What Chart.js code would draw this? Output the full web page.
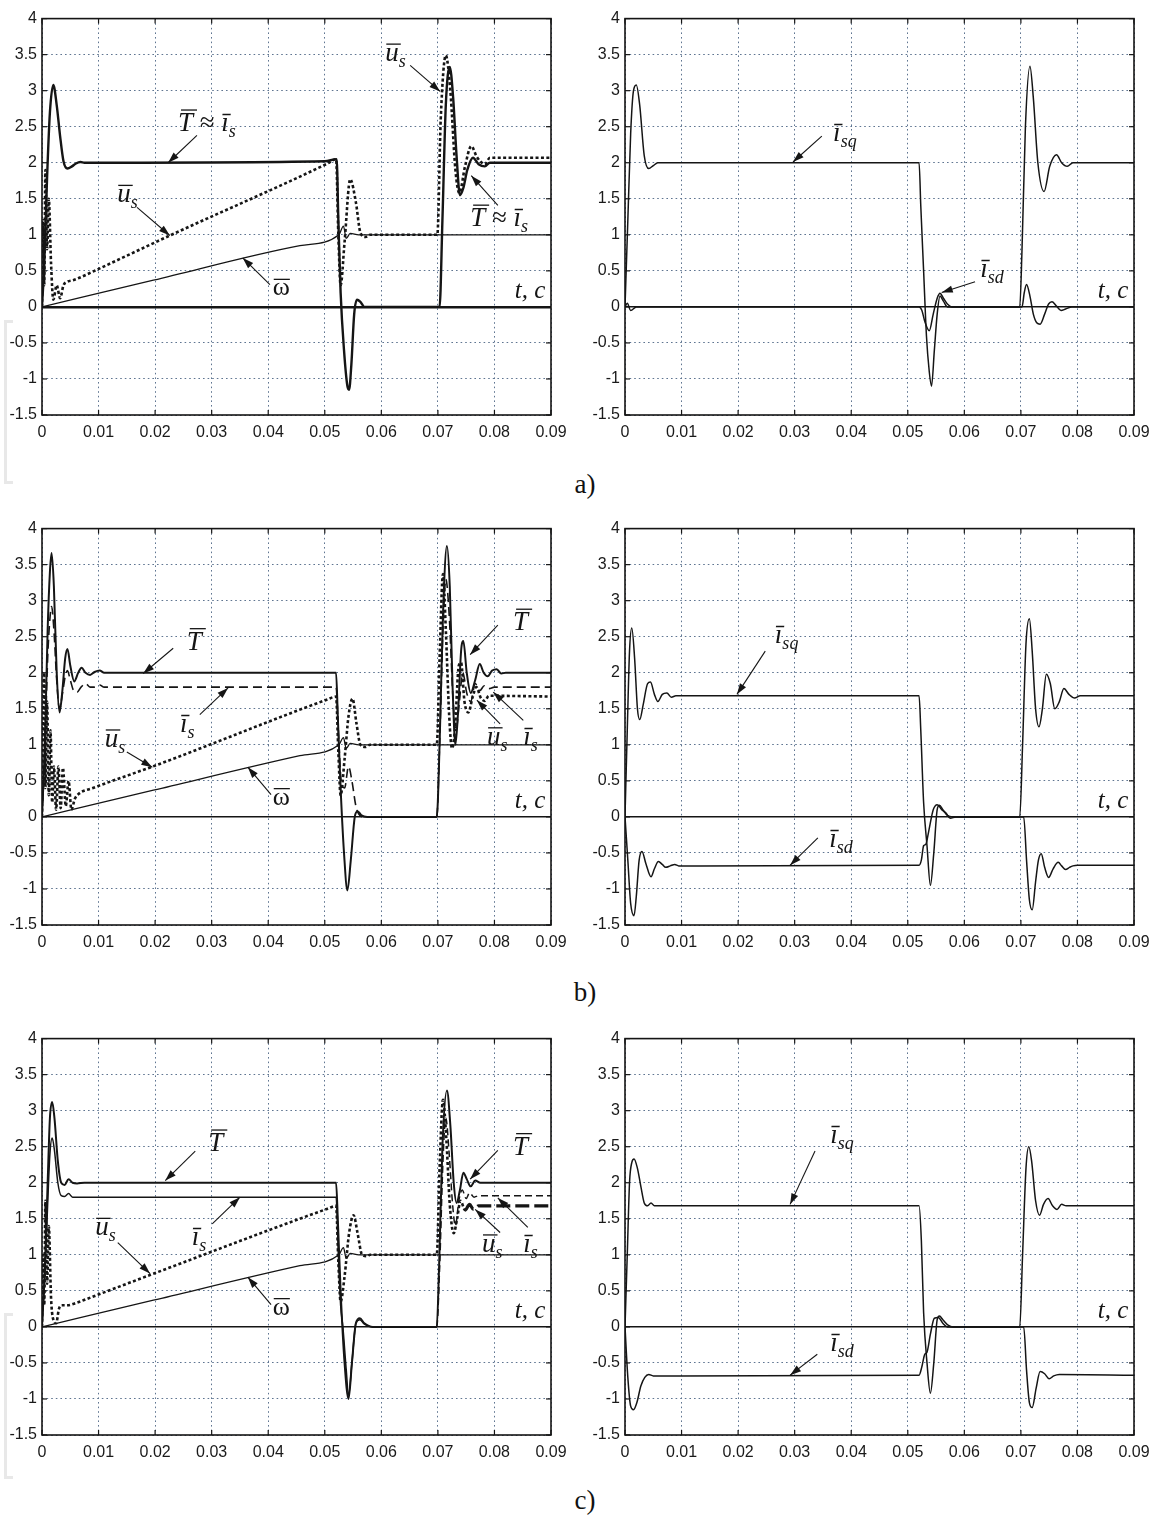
<!DOCTYPE html>
<html><head><meta charset="utf-8">
<script src="https://cdn.jsdelivr.net/npm/chart.js@4.4.1/dist/chart.umd.min.js"></script>
<style>
html,body{margin:0;padding:0;background:#fff;}
body{width:1161px;height:1517px;position:relative;overflow:hidden;}
canvas{position:absolute;}
.sub{position:absolute;font:27px "Liberation Serif",serif;color:#111;transform:translate(-50%,-50%);}
.brk{position:absolute;border:3px solid #e8e8e8;border-right:none;width:6px;}
</style>
</head><body>
<div class="brk" style="left:4px;top:320px;height:158px"></div>
<div class="brk" style="left:4px;top:1313px;height:160px"></div>
<canvas id="aL"></canvas><canvas id="aR"></canvas>
<canvas id="bL"></canvas><canvas id="bR"></canvas>
<canvas id="cL"></canvas><canvas id="cR"></canvas>
<div class="sub" style="left:585px;top:484px">a)</div>
<div class="sub" style="left:585px;top:992px">b)</div>
<div class="sub" style="left:585px;top:1500px">c)</div>
<script>
// ---------- tick labels ----------
const xTicks = [0,0.01,0.02,0.03,0.04,0.05,0.06,0.07,0.08,0.09];
const xTickLabels = ['0','0.01','0.02','0.03','0.04','0.05','0.06','0.07','0.08','0.09'];
const yTicks = [-1.5,-1,-0.5,0,0.5,1,1.5,2,2.5,3,3.5,4];
const yTickLabels = ['-1.5','-1','-0.5','0','0.5','1','1.5','2','2.5','3','3.5','4'];

// ---------- row a) left ----------
const aL_T = [[0,0],[0.0004,0.6],[0.0009,1.8],[0.0014,2.7],[0.002,3.08],[0.0026,2.8],[0.0032,2.37],[0.0038,2.02],[0.0045,1.92],[0.0053,1.95],[0.006,1.99],[0.0068,2.01],[0.0075,2.0],[0.05,2.02],[0.0521,2.05],[0.0524,1.2],[0.0528,0.2],[0.0534,-0.6],[0.054,-1.1],[0.0543,-1.15],[0.0547,-0.8],[0.0552,-0.1],[0.0557,0.1],[0.0563,0.07],[0.057,0],[0.0703,0],[0.0708,1.2],[0.0714,2.8],[0.0721,3.33],[0.0727,2.9],[0.0733,2.1],[0.0739,1.55],[0.0745,1.65],[0.0752,1.9],[0.0762,2.07],[0.0772,1.98],[0.0783,1.95],[0.0792,2.0],[0.09,2.0]];
const aL_u = [[0,0],[0.0002,1.2],[0.0004,0.3],[0.0006,1.9],[0.0009,0.8],[0.0012,1.5],[0.0016,0.6],[0.002,0.1],[0.0026,0.3],[0.0032,0.12],[0.0038,0.3],[0.0045,0.35],[0.0055,0.37],[0.0065,0.4],[0.009,0.49],[0.0226,0.99],[0.0505,1.99],[0.052,2.05],[0.0524,1.0],[0.0528,0.3],[0.0535,0.9],[0.0545,1.77],[0.0555,1.45],[0.0563,1.03],[0.0572,0.97],[0.058,1.0],[0.0699,1.0],[0.0705,2.6],[0.0714,3.49],[0.0722,3.0],[0.0731,1.9],[0.0738,1.58],[0.0748,1.95],[0.0759,2.23],[0.0769,2.08],[0.0783,1.98],[0.0792,2.07],[0.09,2.07]];
const aL_w = [[0,0],[0.0197,0.37],[0.0456,0.85],[0.0525,1.0],[0.0533,1.12],[0.0538,0.95],[0.0545,1.02],[0.056,1.0],[0.09,1.0]];
// ---------- row a) right ----------
const aR_isq = [[0,0],[0.0005,1.2],[0.001,2.4],[0.0015,3.0],[0.002,3.08],[0.0026,2.8],[0.0034,2.1],[0.0042,1.92],[0.005,1.96],[0.0058,2.0],[0.052,2.0],[0.0523,1.4],[0.0528,0.5],[0.0533,-0.4],[0.0538,-0.9],[0.0542,-1.1],[0.0547,-0.6],[0.0552,-0.1],[0.0557,0.15],[0.0563,0.08],[0.057,0],[0.0698,0],[0.0702,0.8],[0.0708,2.5],[0.0716,3.34],[0.0722,2.9],[0.073,2.0],[0.0741,1.6],[0.0751,1.95],[0.0763,2.11],[0.0772,2.0],[0.0782,1.95],[0.0792,2.0],[0.09,2.0]];
const aR_isd = [[0,0],[0.0004,0.05],[0.001,-0.05],[0.002,0],[0.052,0],[0.0525,-0.05],[0.053,-0.2],[0.0538,-0.33],[0.0545,-0.1],[0.0552,0.12],[0.0557,0.19],[0.0563,0.12],[0.057,0.04],[0.0578,0],[0.0702,0],[0.0706,0.2],[0.071,0.31],[0.0716,0.15],[0.0722,-0.1],[0.0728,-0.22],[0.0734,-0.24],[0.0742,-0.1],[0.0749,0.04],[0.0755,0.07],[0.0762,0.02],[0.0771,-0.05],[0.0779,-0.03],[0.079,0],[0.09,0]];
// ---------- row b) left ----------
const bL_T = [[0,0],[0.0005,1.0],[0.001,2.6],[0.0014,3.4],[0.0017,3.66],[0.0021,3.2],[0.0026,2.0],[0.0031,1.45],[0.0036,1.75],[0.0041,2.2],[0.0045,2.33],[0.005,2.1],[0.0057,1.88],[0.0064,2.0],[0.007,2.07],[0.0077,2.0],[0.0085,1.97],[0.0093,2.01],[0.0102,2.03],[0.011,2.0],[0.052,2.0],[0.0523,1.4],[0.0528,0.4],[0.0534,-0.5],[0.054,-1.02],[0.0546,-0.6],[0.0553,0],[0.0558,0.08],[0.0565,0.02],[0.0575,0],[0.0698,0],[0.0703,1.0],[0.0709,2.8],[0.0716,3.76],[0.0721,3.2],[0.0726,1.8],[0.0731,1.0],[0.0736,1.5],[0.0741,2.3],[0.0745,2.44],[0.0751,2.0],[0.0758,1.72],[0.0766,1.9],[0.0774,2.12],[0.0781,2.0],[0.0788,1.95],[0.0796,2.03],[0.0804,2.05],[0.0812,1.99],[0.082,2.0],[0.09,2.0]];
const bL_is = [[0,0],[0.0005,0.9],[0.001,2.2],[0.0014,2.75],[0.0017,2.92],[0.0021,2.6],[0.0026,1.9],[0.0031,1.5],[0.0036,1.7],[0.0041,1.95],[0.0045,2.03],[0.005,1.9],[0.0056,1.75],[0.0062,1.73],[0.0069,1.8],[0.0077,1.85],[0.0085,1.8],[0.0093,1.8],[0.0102,1.83],[0.011,1.8],[0.052,1.8],[0.0524,1.2],[0.0529,0.5],[0.0535,0.4],[0.0542,0.7],[0.0548,0.5],[0.0555,0.15],[0.0562,0.02],[0.057,0],[0.0698,0],[0.0703,1.0],[0.0709,2.6],[0.0714,3.3],[0.072,2.8],[0.0727,1.6],[0.0732,1.2],[0.0738,1.6],[0.0744,2.0],[0.0751,1.72],[0.0758,1.6],[0.0766,1.85],[0.0774,1.75],[0.0782,1.82],[0.079,1.78],[0.08,1.8],[0.09,1.8]];
const bL_u = [[0,0],[0.0002,1.3],[0.0004,2.0],[0.0006,0.4],[0.0009,1.6],[0.0012,0.3],[0.0015,1.2],[0.0018,0.2],[0.0021,0.7],[0.0025,0.1],[0.0029,0.7],[0.0033,0.12],[0.0037,0.68],[0.0042,0.15],[0.0047,0.5],[0.0052,0.1],[0.0058,0.25],[0.0065,0.32],[0.009,0.4],[0.0203,0.72],[0.0505,1.63],[0.052,1.67],[0.0524,0.9],[0.0528,0.3],[0.0535,0.8],[0.0542,1.4],[0.0549,1.64],[0.0556,1.3],[0.0563,1.0],[0.0572,0.97],[0.058,1.0],[0.0698,1.0],[0.0703,2.2],[0.0709,3.37],[0.0714,2.6],[0.072,1.4],[0.0725,0.95],[0.073,1.2],[0.0737,2.1],[0.0741,2.14],[0.0747,1.6],[0.0754,1.45],[0.0761,1.65],[0.0768,1.8],[0.0776,1.65],[0.0783,1.61],[0.079,1.68],[0.09,1.67]];
const bL_w = [[0,0],[0.0197,0.37],[0.0456,0.85],[0.0525,1.0],[0.0533,1.1],[0.0538,0.95],[0.0545,1.02],[0.056,1.0],[0.09,1.0]];
// ---------- row b) right ----------
const bR_isq = [[0,0],[0.0004,1.2],[0.0008,2.3],[0.0012,2.62],[0.0017,2.2],[0.0022,1.5],[0.0026,1.35],[0.0032,1.55],[0.004,1.85],[0.0045,1.87],[0.0052,1.7],[0.0058,1.6],[0.0066,1.7],[0.0074,1.72],[0.0082,1.66],[0.009,1.68],[0.052,1.68],[0.0523,1.2],[0.0528,0.2],[0.0534,-0.4],[0.054,-0.95],[0.0546,-0.5],[0.0552,0.1],[0.0556,0.16],[0.0562,0.1],[0.057,0.02],[0.058,0],[0.0698,0],[0.0703,1.0],[0.0709,2.4],[0.0715,2.75],[0.072,2.3],[0.0726,1.5],[0.0732,1.25],[0.0738,1.5],[0.0745,1.98],[0.0752,1.85],[0.076,1.5],[0.0768,1.6],[0.0776,1.78],[0.0785,1.7],[0.0795,1.65],[0.0805,1.68],[0.09,1.68]];
const bR_isd = [[0,0],[0.0005,-0.6],[0.001,-1.2],[0.0016,-1.37],[0.002,-1.1],[0.0025,-0.6],[0.003,-0.48],[0.0037,-0.65],[0.0046,-0.83],[0.0052,-0.72],[0.0059,-0.62],[0.0066,-0.66],[0.0072,-0.7],[0.008,-0.68],[0.0088,-0.66],[0.0095,-0.68],[0.052,-0.67],[0.0524,-0.6],[0.0528,-0.4],[0.0532,-0.38],[0.0537,-0.2],[0.0545,0.1],[0.0552,0.17],[0.056,0.1],[0.0568,0.05],[0.0575,-0.02],[0.0585,0],[0.0705,0],[0.071,-0.6],[0.0715,-1.15],[0.072,-1.29],[0.0726,-0.9],[0.0731,-0.6],[0.0736,-0.51],[0.0742,-0.7],[0.0749,-0.84],[0.0757,-0.72],[0.0766,-0.63],[0.0772,-0.68],[0.0779,-0.73],[0.0786,-0.7],[0.0792,-0.68],[0.08,-0.67],[0.09,-0.67]];
// ---------- row c) left ----------
const cL_T = [[0,0],[0.0005,0.8],[0.001,2.0],[0.0014,2.9],[0.0018,3.12],[0.0022,2.9],[0.0028,2.3],[0.0034,2.0],[0.004,1.97],[0.0047,2.05],[0.0054,2.0],[0.0062,1.99],[0.0075,2.0],[0.052,2.0],[0.0523,1.5],[0.0528,0.5],[0.0535,-0.5],[0.0542,-1.0],[0.0548,-0.5],[0.0555,0.05],[0.0562,0.12],[0.057,0.05],[0.0585,0],[0.0698,0],[0.0702,0.8],[0.0708,2.5],[0.0716,3.28],[0.0722,2.8],[0.0728,2.0],[0.0733,1.72],[0.0739,1.9],[0.0745,2.14],[0.0751,2.05],[0.0758,1.95],[0.0766,2.03],[0.0775,2.0],[0.09,2.0]];
const cL_is = [[0,0],[0.0005,0.7],[0.001,1.7],[0.0014,2.4],[0.0018,2.62],[0.0022,2.45],[0.0028,2.0],[0.0034,1.82],[0.004,1.81],[0.0047,1.85],[0.0054,1.8],[0.0062,1.8],[0.052,1.8],[0.0524,1.0],[0.0528,0.3],[0.0532,0],[0.0538,-0.6],[0.0542,-0.95],[0.0548,-0.5],[0.0555,0.05],[0.0562,0.1],[0.057,0.04],[0.0585,0],[0.0698,0],[0.0703,0.8],[0.0709,2.3],[0.0714,2.9],[0.072,2.4],[0.0726,1.7],[0.0731,1.4],[0.0737,1.75],[0.0743,1.9],[0.075,1.78],[0.0756,1.86],[0.0764,1.8],[0.0772,1.82],[0.09,1.82]];
const cL_u = [[0,0],[0.0002,1.0],[0.0004,0.3],[0.0006,1.75],[0.0009,0.6],[0.0012,1.4],[0.0016,0.4],[0.002,0.1],[0.0025,0.05],[0.003,0.25],[0.0035,0.3],[0.0045,0.3],[0.006,0.33],[0.008,0.39],[0.0191,0.72],[0.0505,1.64],[0.052,1.68],[0.0524,0.9],[0.0528,0.35],[0.0535,0.7],[0.0543,1.3],[0.0551,1.55],[0.0558,1.3],[0.0566,1.0],[0.0575,0.98],[0.058,1.0],[0.0698,1.0],[0.0703,2.2],[0.0709,3.15],[0.0715,2.6],[0.0721,1.7],[0.0728,1.3],[0.0734,1.5],[0.074,1.75],[0.0748,1.62],[0.0756,1.7],[0.0763,1.63],[0.0772,1.68],[0.09,1.68]];
const cL_w = [[0,0],[0.0197,0.37],[0.0456,0.85],[0.0525,1.0],[0.0533,1.1],[0.0538,0.95],[0.0545,1.02],[0.056,1.0],[0.09,1.0]];
// ---------- row c) right ----------
const cR_isq = [[0,0],[0.0004,1.0],[0.0008,2.0],[0.0012,2.28],[0.0016,2.33],[0.0022,2.2],[0.0028,1.95],[0.0034,1.72],[0.004,1.68],[0.0046,1.72],[0.0052,1.68],[0.052,1.68],[0.0524,1.2],[0.0528,0.2],[0.0534,-0.5],[0.054,-0.92],[0.0546,-0.5],[0.0552,0.1],[0.0556,0.15],[0.0562,0.1],[0.0572,0.02],[0.058,0],[0.0698,0],[0.0703,1.0],[0.0709,2.2],[0.0714,2.5],[0.0719,2.3],[0.0726,1.75],[0.0733,1.55],[0.074,1.7],[0.0748,1.78],[0.0756,1.68],[0.0764,1.63],[0.0772,1.7],[0.078,1.68],[0.09,1.68]];
const cR_isd = [[0,0],[0.0005,-0.7],[0.001,-1.1],[0.0015,-1.15],[0.0021,-1.05],[0.0028,-0.82],[0.0035,-0.7],[0.0042,-0.66],[0.005,-0.68],[0.052,-0.67],[0.0525,-0.55],[0.053,-0.38],[0.0534,-0.35],[0.054,-0.1],[0.0547,0.12],[0.0554,0.13],[0.0562,0.05],[0.057,0],[0.0705,0],[0.071,-0.6],[0.0715,-1.05],[0.072,-1.12],[0.0727,-0.85],[0.0734,-0.62],[0.0742,-0.65],[0.075,-0.72],[0.0758,-0.68],[0.0768,-0.66],[0.09,-0.67]];

// ---------- annotations (label kind, label anchor, arrow start, arrow tip) in data units ----------
const ANN = {
  aL: [
    {k:'Tis', at:[0.02405,2.44], from:[0.0274,2.38], to:[0.0223,2.0]},
    {k:'us',  at:[0.0133,1.45], from:[0.0168,1.38], to:[0.0226,0.99]},
    {k:'w',   at:[0.0408,0.16], from:[0.0403,0.31], to:[0.0355,0.68]},
    {k:'us',  at:[0.0607,3.41], from:[0.0651,3.35], to:[0.0704,2.99]},
    {k:'Tis', at:[0.0757,1.12], from:[0.0806,1.41], to:[0.0759,1.82]},
    {k:'tc',  at:[0.0836,0.12]}
  ],
  aR: [
    {k:'isq', at:[0.0368,2.30], from:[0.0348,2.37], to:[0.0297,2.01]},
    {k:'isd', at:[0.0628,0.42], from:[0.0619,0.35], to:[0.0560,0.2]},
    {k:'tc',  at:[0.0836,0.12]}
  ],
  bL: [
    {k:'T',  at:[0.0256,2.32], from:[0.0232,2.34], to:[0.0179,1.99]},
    {k:'is', at:[0.0244,1.18], from:[0.0279,1.42], to:[0.0329,1.79]},
    {k:'us', at:[0.0111,0.97], from:[0.0150,0.90], to:[0.0195,0.69]},
    {k:'w',  at:[0.0408,0.17], from:[0.0405,0.31], to:[0.0364,0.69]},
    {k:'T',  at:[0.0833,2.59], from:[0.0806,2.66], to:[0.0757,2.25]},
    {k:'us', at:[0.0787,1.0], from:[0.0810,1.29], to:[0.0769,1.62]},
    {k:'is', at:[0.0851,1.0], from:[0.0851,1.34], to:[0.0798,1.73]},
    {k:'tc', at:[0.0836,0.12]}
  ],
  bR: [
    {k:'isq', at:[0.0265,2.41], from:[0.0248,2.30], to:[0.0198,1.7]},
    {k:'isd', at:[0.0361,-0.42], from:[0.0341,-0.29], to:[0.0292,-0.67]},
    {k:'tc',  at:[0.0836,0.12]}
  ],
  cL: [
    {k:'T',  at:[0.0294,2.44], from:[0.0271,2.44], to:[0.0218,2.03]},
    {k:'is', at:[0.0265,1.14], from:[0.0301,1.43], to:[0.0350,1.80]},
    {k:'us', at:[0.0094,1.27], from:[0.0134,1.17], to:[0.0191,0.74]},
    {k:'w',  at:[0.0408,0.17], from:[0.0405,0.31], to:[0.0364,0.69]},
    {k:'T',  at:[0.0833,2.39], from:[0.0806,2.45], to:[0.0757,2.05]},
    {k:'us', at:[0.0778,1.04], from:[0.0810,1.31], to:[0.0766,1.63]},
    {k:'is', at:[0.0851,1.04], from:[0.0859,1.38], to:[0.0806,1.79]},
    {k:'tc', at:[0.0836,0.12]}
  ],
  cR: [
    {k:'isq', at:[0.0363,2.55], from:[0.0336,2.44], to:[0.0292,1.7]},
    {k:'isd', at:[0.0363,-0.33], from:[0.0340,-0.38], to:[0.0292,-0.67]},
    {k:'tc',  at:[0.0836,0.12]}
  ]
};

// ---------- drawing helpers ----------
const INK = '#151515';
const FI = 'italic 27px "Liberation Serif"';
const FSUB = 'italic 18px "Liberation Serif"';
const FUP = '27px "Liberation Serif"';
function txt(ctx, s, x, y, font){ ctx.font = font; ctx.fillText(s, x, y); return ctx.measureText(s).width; }
function bar(ctx, x1, x2, y){ ctx.beginPath(); ctx.moveTo(x1, y); ctx.lineTo(x2, y); ctx.stroke(); }
function drawLabel(ctx, k, x, y){
  ctx.textBaseline = 'alphabetic'; ctx.textAlign = 'left'; ctx.lineWidth = 1.3;
  let w;
  const T = () => { w = txt(ctx,'T',x,y,FI); bar(ctx, x+3, x+w+4, y-21); x += w; };
  const I = (sub) => { w = txt(ctx,'ī',x,y,FI); x += w; w = txt(ctx,sub,x,y+6,FSUB); x += w; };
  switch(k){
    case 'Tis': T(); x += txt(ctx,' ≈ ',x,y,FUP); I('s'); break;
    case 'T': T(); break;
    case 'is': I('s'); break;
    case 'isq': I('sq'); break;
    case 'isd': I('sd'); break;
    case 'us': w = txt(ctx,'u',x,y,FI); bar(ctx,x+1,x+w+2,y-17); x+=w; txt(ctx,'s',x,y+6,FSUB); break;
    case 'w': w = txt(ctx,'ω',x,y,'26px "Liberation Serif"'); bar(ctx,x+1,x+w,y-16); break;
    case 'tc': txt(ctx,'t, c',x,y,'italic 25px "Liberation Serif"'); break;
  }
}
function arrow(ctx, x1, y1, x2, y2){
  ctx.lineWidth = 1.1;
  ctx.beginPath(); ctx.moveTo(x1, y1); ctx.lineTo(x2, y2); ctx.stroke();
  const a = Math.atan2(y2-y1, x2-x1), L = 11, H = 3.6;
  const bx = x2 - L*Math.cos(a), by = y2 - L*Math.sin(a);
  ctx.beginPath(); ctx.moveTo(x2, y2);
  ctx.lineTo(bx + H*Math.sin(a), by - H*Math.cos(a));
  ctx.lineTo(bx - H*Math.sin(a), by + H*Math.cos(a));
  ctx.closePath(); ctx.fill();
}
const framePlugin = {
  id: 'frame',
  afterDraw(chart){
    const ctx = chart.ctx, ca = chart.chartArea, xs = chart.scales.x, ys = chart.scales.y;
    ctx.save();
    ctx.strokeStyle = INK; ctx.fillStyle = INK;
    ctx.lineWidth = 1.6;
    ctx.strokeRect(ca.left, ca.top, ca.right - ca.left, ca.bottom - ca.top);
    ctx.lineWidth = 1.2;
    function seg(a,b,c,d){ ctx.beginPath(); ctx.moveTo(a,b); ctx.lineTo(c,d); ctx.stroke(); }
    xTicks.forEach(v => { const p = xs.getPixelForValue(v); seg(p, ca.top, p, ca.top+5); seg(p, ca.bottom, p, ca.bottom-5); });
    yTicks.forEach(v => { const p = ys.getPixelForValue(v); seg(ca.left, p, ca.left+5, p); seg(ca.right, p, ca.right-5, p); });
    (ANN[chart.canvas.id] || []).forEach(a => {
      if (a.from) arrow(ctx, xs.getPixelForValue(a.from[0]), ys.getPixelForValue(a.from[1]), xs.getPixelForValue(a.to[0]), ys.getPixelForValue(a.to[1]));
      drawLabel(ctx, a.k, xs.getPixelForValue(a.at[0]), ys.getPixelForValue(a.at[1]));
    });
    ctx.restore();
  }
};

// ---------- dataset styles ----------
const SOLID = {borderWidth: 2.0};
const THIN = {borderWidth: 1.3};
const DOTTED = {borderWidth: 2.6, borderDash: [3, 2.4]};
const DASHED = {borderWidth: 1.6, borderDash: [9, 5]};
function ds(pairs, style, extra){
  return Object.assign({
    data: pairs.map(p => ({x: p[0], y: p[1]})),
    borderColor: INK, pointRadius: 0, fill: false,
    cubicInterpolationMode: 'monotone', spanGaps: true
  }, style, extra || {});
}
const GRID = '#5f7591';
function build(id, side, top, datasets, zeroW){
  const cv = document.getElementById(id);
  const W = side === 'L' ? 580 : 581, H = 451;
  cv.width = W; cv.height = H;
  cv.style.left = (side === 'L' ? 0 : 580) + 'px'; cv.style.top = top + 'px';
  cv.style.width = W + 'px'; cv.style.height = H + 'px';
  const isZero = c => c.tick && Math.abs(c.tick.value) < 1e-9;
  new Chart(cv, {
    type: 'line',
    data: {datasets},
    options: {
      responsive: false, animation: false, devicePixelRatio: 1,
      layout: {padding: {left: 0, right: side === 'L' ? 29 : 27, top: 10.5, bottom: 10}},
      plugins: {legend: {display: false}, tooltip: {enabled: false}},
      scales: {
        x: {
          type: 'linear', min: 0, max: 0.09,
          afterBuildTicks: s => { s.ticks = xTicks.map(v => ({value: v})); },
          afterFit: s => { s.height = 30; },
          ticks: {callback: (v, i) => xTickLabels[i], font: {family: '"Liberation Sans", Arial', size: 16}, color: '#1a1a1a', padding: 8, maxRotation: 0, autoSkip: false},
          grid: {color: GRID, lineWidth: 1, drawTicks: false},
          border: {display: false, dash: [1.6, 3]}
        },
        y: {
          type: 'linear', min: -1.5, max: 4,
          afterBuildTicks: s => { s.ticks = yTicks.map(v => ({value: v})); },
          afterFit: s => { s.width = side === 'L' ? 42 : 45; },
          ticks: {callback: (v, i) => yTickLabels[i], font: {family: '"Liberation Sans", Arial', size: 16}, color: '#1a1a1a', padding: 5, autoSkip: false},
          grid: {color: c => isZero(c) ? INK : GRID, lineWidth: c => isZero(c) ? zeroW : 1, drawTicks: false},
          border: {display: false, dash: c => isZero(c) ? [] : [1.6, 3]}
        }
      }
    },
    plugins: [framePlugin]
  });
}

build('aL', 'L', 4, [ds(aL_T, {borderWidth: 2.4}), ds(aL_u, DOTTED), ds(aL_w, THIN)], 2.4);
build('aR', 'R', 4, [ds(aR_isq, {borderWidth: 1.5}), ds(aR_isd, {borderWidth: 1.5})], 1.4);
build('bL', 'L', 514, [ds(bL_T, SOLID), ds(bL_is, DASHED), ds(bL_u, DOTTED), ds(bL_w, THIN)], 1.4);
build('bR', 'R', 514, [ds(bR_isq, {borderWidth: 1.5}), ds(bR_isd, {borderWidth: 1.5})], 1.4);
build('cL', 'L', 1024, [
  ds(cL_T, SOLID),
  ds(cL_is, {borderWidth: 1.5}, {segment: {borderDash: c => c.p0.parsed.x >= 0.06 ? [7, 4] : undefined}}),
  ds(cL_u, DOTTED, {segment: {
    borderDash: c => c.p0.parsed.x >= 0.0745 ? [14, 5] : undefined,
    borderWidth: c => c.p0.parsed.x >= 0.0745 ? 3.2 : undefined}}),
  ds(cL_w, THIN)], 1.4);
build('cR', 'R', 1024, [ds(cR_isq, {borderWidth: 1.5}), ds(cR_isd, {borderWidth: 1.5})], 1.4);
</script>
</body></html>
